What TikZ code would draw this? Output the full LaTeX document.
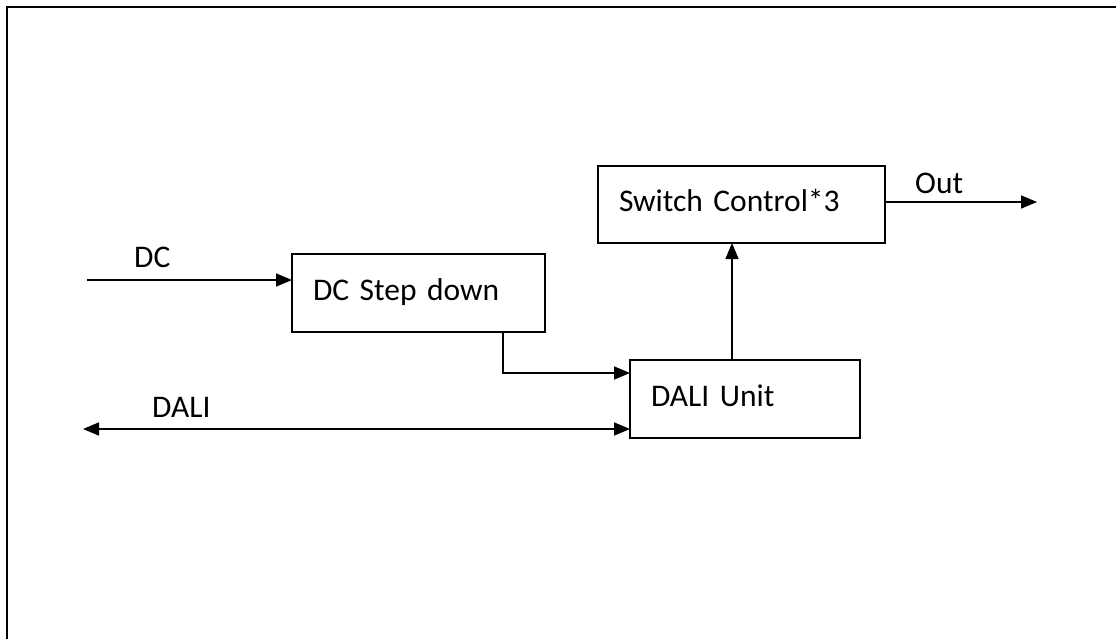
\documentclass[tikz,border=0pt]{standalone}
\usepackage{fontspec}
\setmainfont{Carlito}
\usetikzlibrary{arrows.meta}
\begin{document}
\begin{tikzpicture}[x=1pt,y=-1pt,
  every node/.style={font=\fontsize{31.5}{38}\selectfont},
  blockbox/.style={draw, line width=1.6pt, outer sep=0pt, inner xsep=21pt, inner ysep=0pt,
    align=left, text height=14.5pt, text depth=0pt, anchor=north west},
  conn/.style={line width=1.6pt, -{Triangle[length=16pt,width=13pt]}},
  lbl/.style={anchor=base west, inner sep=0pt}]
\useasboundingbox (0,0) rectangle (1116,639);
\draw[line width=2pt] (7,660) -- (7,7) -- (1130,7);
% boxes
\node[blockbox, text width=245pt, minimum width=287pt, minimum height=77pt] (sw) at (598,166) {Switch Control*3};
\node[blockbox, text width=211pt, minimum width=253pt, minimum height=78pt] (dcbox) at (292,254) {DC Step down};
\node[blockbox, text width=188pt, minimum width=230pt, minimum height=78pt] (dali) at (630,360) {DALI Unit};
% coordinates
\coordinate (dcin) at (87,280);
\coordinate (outend) at (1037,202);
\coordinate (daliend) at (83,429);
\coordinate (elb) at (503,373);
\coordinate (vx) at (732,300);
% connectors
\draw[conn] (dcin) -- (dcin -| dcbox.west);
\draw[conn] (outend -| sw.east) -- (outend);
\draw[conn, {Triangle[length=16pt,width=13pt]}-{Triangle[length=16pt,width=13pt]}] (daliend) -- (daliend -| dali.west);
\draw[conn] (elb |- dcbox.south) -- (elb) -- (elb -| dali.west);
\draw[conn] (vx |- dali.north) -- (vx |- sw.south);
% labels
\node[lbl] (dclbl) at (134,267) {DC};
\node[lbl] (dalilbl) at (152,417) {DALI};
\node[lbl] (outlbl) at (915,194) {Out};
\end{tikzpicture}
\end{document}
